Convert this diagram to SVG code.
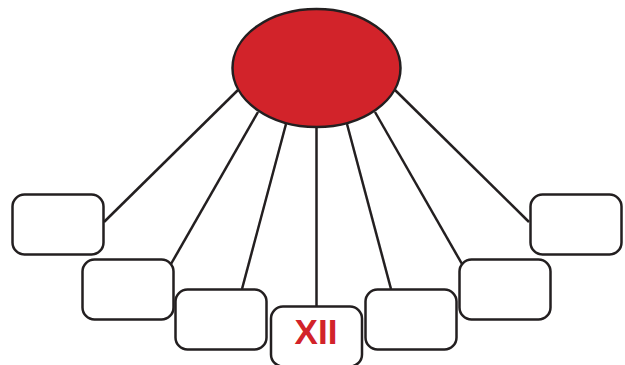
<svg xmlns="http://www.w3.org/2000/svg" width="625" height="365" viewBox="0 0 625 365">
<style>
.box{fill:#fff;stroke:#231f20;stroke-width:2.5}
.ln{stroke:#231f20;stroke-width:2.5;fill:none}
.lbl{font-family:"Liberation Sans",Arial,sans-serif;font-weight:bold;font-size:35px;fill:#d2232a;text-anchor:middle}
</style>
<rect width="625" height="365" fill="#fff"/>
<g id="connectors">
<line class="ln" x1="238" y1="90" x2="104" y2="222"/>
<line class="ln" x1="258" y1="112" x2="171" y2="264"/>
<line class="ln" x1="286" y1="124" x2="242" y2="289"/>
<line class="ln" x1="316.5" y1="126" x2="316.5" y2="306"/>
<line class="ln" x1="347" y1="124" x2="391" y2="289"/>
<line class="ln" x1="375" y1="112" x2="462" y2="264"/>
<line class="ln" x1="395" y1="90" x2="529" y2="222"/>
</g>
<g id="center">
<ellipse cx="316.5" cy="68" rx="84" ry="59" fill="#d2232a" stroke="#231f20" stroke-width="2.5"/>
</g>
<g id="box1"><rect class="box" x="12.5" y="194.5" width="91" height="60" rx="12"/></g>
<g id="box2"><rect class="box" x="82.5" y="259.5" width="91" height="60" rx="12"/></g>
<g id="box3"><rect class="box" x="175.5" y="289.5" width="91" height="60" rx="12"/></g>
<g id="box4"><rect class="box" x="271" y="306.5" width="91" height="60" rx="12"/><text class="lbl" x="316" y="344">XII</text></g>
<g id="box5"><rect class="box" x="365.5" y="289.5" width="91" height="60" rx="12"/></g>
<g id="box6"><rect class="box" x="459.5" y="259.5" width="91" height="60" rx="12"/></g>
<g id="box7"><rect class="box" x="530.5" y="194.5" width="91" height="60" rx="12"/></g>
</svg>
